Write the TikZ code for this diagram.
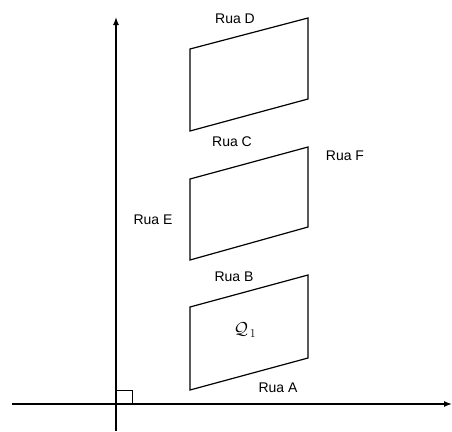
\documentclass[tikz,border=0pt]{standalone}
\usepackage{fontspec}
\setsansfont{Liberation Sans}
\usetikzlibrary{arrows.meta}
\begin{document}
\begin{tikzpicture}[x=1pt,y=-1pt,
  axis/.style={line width=1.4pt,-{Latex[length=8pt,width=6pt]}},
  street/.style={line width=1.2pt,line join=miter},
  lbl/.style={font=\sffamily\fontsize{14}{16}\selectfont,inner sep=0pt}]
\useasboundingbox (0,0) rectangle (452,431);
% axes
\coordinate (O) at (116,404);
\coordinate (xs) at (12,404);
\coordinate (xe) at (452,404);
\coordinate (ys) at (116,431);
\coordinate (ye) at (116,17);
\draw[axis] (xs) -- (xe);
\draw[axis] (ys) -- (ye);
\draw[line width=1pt] (116,390) -- (132,390) -- (132,404);
% blocks
\draw[street] (190,49) -- (308,18) -- (308,99) -- (190,131) -- cycle;
\draw[street] (190,179) -- (308,147) -- (308,227) -- (190,260) -- cycle;
\draw[street] (190,307) -- (308,275) -- (308,358) -- (190,390) -- cycle;
% labels
\node[lbl] (D) at (235,19) {Rua D};
\node[lbl] (C) at (232,142) {Rua C};
\node[lbl] (F) at (345,156) {Rua F};
\node[lbl] (E) at (153,220) {Rua E};
\node[lbl] (B) at (234,277) {Rua B};
\node[lbl] (A) at (278,388) {Rua A};
\node[inner sep=0pt,font=\fontsize{18}{20}\selectfont] (Q) at (245,330) {$\mathcal{Q}_{\,\scriptstyle 1}$};
\end{tikzpicture}
\end{document}
